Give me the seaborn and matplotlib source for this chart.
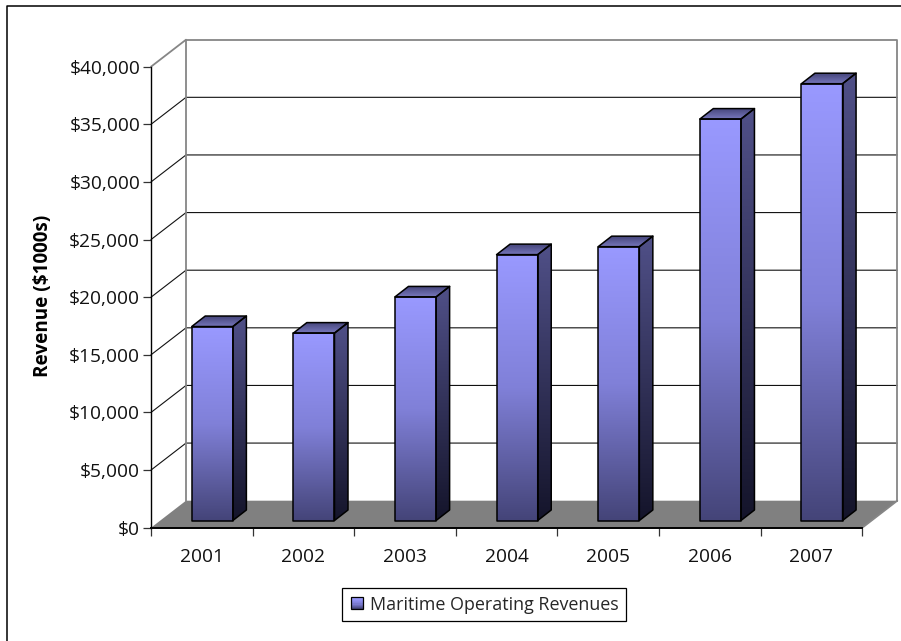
import numpy as np
import matplotlib
matplotlib.use("Agg")
import matplotlib.pyplot as plt
import seaborn as sns
from matplotlib.colors import LinearSegmentedColormap
from matplotlib.legend_handler import HandlerBase
from matplotlib.lines import Line2D
from matplotlib.patches import Polygon, Rectangle
from matplotlib.ticker import FuncFormatter
from matplotlib.transforms import Affine2D, IdentityTransform

years = ["2001", "2002", "2003", "2004", "2005", "2006", "2007"]
revenues = [16830, 16260, 19400, 23070, 23760, 34830, 37900]
series_name = "Maritime Operating Revenues"
y_ticks = [0, 5000, 10000, 15000, 20000, 25000, 30000, 35000, 40000]

W, H = 901, 641
LEFT, RIGHT, BOTTOM, TOP = 151.0, 862.3, 527.7, 66.7   # front plane, pixels from top-left
WALL_DX, WALL_DY = 35.0, 27.0                          # depth of the back wall
BAR_DX, BAR_DY = 10.5, 7.2                             # where bars stand on the floor
SIDE_DX, SIDE_DY = 13.5, 10.5                          # depth of each column

sns.set_theme(style="white")
plt.rcParams["font.family"] = ["Open Sans", "DejaVu Sans"]

fig = plt.figure(figsize=(W / 100, H / 100), dpi=100, facecolor="white")
ax = fig.add_axes([LEFT / W, 1 - BOTTOM / H, (RIGHT - LEFT) / W, (BOTTOM - TOP) / H])
ax.patch.set_visible(False)


def shifted(dx, dy):
    """Data transform moved into the depth of the chart by a pixel offset."""
    return ax.transData + Affine2D().translate(dx, dy)


sns.barplot(x=years, y=revenues, color="#9999FF", saturation=1, width=0.405,
            edgecolor="black", linewidth=0, ax=ax, zorder=5)
ax.set_xlim(-0.5, 6.5)
ax.set_ylim(0, 40000)

# Back wall frame, floor and side wall
GRAY = "#868686"
x0, x1 = ax.get_xlim()
wall = shifted(WALL_DX, WALL_DY)
to_px = ax.transData.transform
(p0x, p0y), (p1x, p1y) = to_px((x0, 0)), to_px((x1, 0))
ax.add_patch(Polygon([(p0x, p0y), (p1x, p1y), (p1x + WALL_DX, p1y + WALL_DY),
                      (p0x + WALL_DX, p0y + WALL_DY)], closed=True, facecolor="#808080",
                     edgecolor="none", transform=IdentityTransform(), clip_on=False, zorder=1))

for v in y_ticks[1:-1]:
    px, py = to_px((x0, v))
    qx, _ = to_px((x1, v))
    line_style = dict(color="#111111", lw=0.8, transform=IdentityTransform(),
                      clip_on=False, zorder=2, snap=False)
    ax.add_line(Line2D([px, px + WALL_DX], [py, py + WALL_DY], **line_style))
    ax.add_line(Line2D([px + WALL_DX, qx + WALL_DX], [py + WALL_DY, py + WALL_DY], **line_style))

frame_style = dict(color=GRAY, lw=1.3, transform=wall, clip_on=False, zorder=2,
                   solid_capstyle="projecting")
ax.add_line(Line2D([x0, x0, x1, x1], [0, 40000, 40000, 0], **frame_style))
px, py = to_px((x0, 40000))
ax.add_line(Line2D([px, px + WALL_DX], [py, py + WALL_DY], color=GRAY, lw=1.3,
                   transform=IdentityTransform(), clip_on=False, zorder=2))
ax.add_line(Line2D([p1x, p1x + WALL_DX], [p1y, p1y + WALL_DY], color=GRAY, lw=1.3,
                   transform=IdentityTransform(), clip_on=False, zorder=2))

# Shaded faces of each column
front_cmap = LinearSegmentedColormap.from_list("front", ["#9999FF", "#8080D8", "#444478"])
side_cmap = LinearSegmentedColormap.from_list("side", ["#505088", "#14142A"])
top_cmap = LinearSegmentedColormap.from_list("top", ["#44447A", "#7878BC"])
ramp = np.linspace(0, 1, 256).reshape(-1, 1)


def shade(corners, cmap, order):
    corners = np.asarray(corners)
    poly = Polygon(corners, closed=True, facecolor="none", edgecolor="black", lw=1.1,
                   transform=IdentityTransform(), clip_on=False, zorder=7, joinstyle="round")
    ax.add_patch(poly)
    extent = (corners[:, 0].min(), corners[:, 0].max(), corners[:, 1].min(), corners[:, 1].max())
    img = ax.imshow(ramp, cmap=cmap, aspect="auto", extent=extent, origin="upper",
                    transform=IdentityTransform(), zorder=order, interpolation="bilinear")
    img.set_clip_path(poly)


for bar in list(ax.patches):
    if not isinstance(bar, Rectangle) or bar.get_height() <= 0:
        continue
    bar.set_visible(False)
    xa, xb, h = bar.get_x(), bar.get_x() + bar.get_width(), bar.get_height()
    (ax_, ay_), (bx_, by_) = to_px((xa, 0)), to_px((xb, h))
    ax_, bx_ = ax_ + BAR_DX, bx_ + BAR_DX
    ay_, by_ = ay_ + BAR_DY, by_ + BAR_DY
    shade([(bx_, ay_), (bx_ + SIDE_DX, ay_ + SIDE_DY), (bx_ + SIDE_DX, by_ + SIDE_DY), (bx_, by_)],
          side_cmap, 5)
    shade([(ax_, by_), (bx_, by_), (bx_ + SIDE_DX, by_ + SIDE_DY), (ax_ + SIDE_DX, by_ + SIDE_DY)],
          top_cmap, 5)
    shade([(ax_, ay_), (bx_, ay_), (bx_, by_), (ax_, by_)], front_cmap, 6)

ax.set_xlim(x0, x1)
ax.set_ylim(0, 40000)

# Axes, ticks and labels
for name, spine in ax.spines.items():
    spine.set_visible(name in ("left", "bottom"))
    spine.set_color("black")
    spine.set_linewidth(1.0)
    spine.set_zorder(8)
ax.spines["bottom"].set_linewidth(1.4)

ax.set_yticks(y_ticks)
ax.yaxis.set_major_formatter(FuncFormatter(lambda v, _: f"${v:,.0f}"))
ax.tick_params(axis="y", which="major", left=True, length=5.8, width=0.9, color="#333333",
               pad=2.0, labelsize=13.8, labelcolor="#111111")
ax.set_xticks(np.arange(-0.5, 7), labels=[])
ax.set_xticks(np.arange(7), labels=years, minor=True)
ax.tick_params(axis="x", which="major", bottom=True, length=6.0, width=0.9, color="#333333")
ax.tick_params(axis="x", which="minor", bottom=False, length=0, pad=14.5, labelsize=13.8,
               labelcolor="#111111")
ax.grid(False)
ax.set_xlabel("")
ax.set_ylabel("Revenue ($1000s)", fontsize=13.6, fontweight="bold", color="black")
ax.yaxis.set_label_coords(53 / W, 1 - 296 / H, transform=fig.transFigure)


class GradientSwatch(HandlerBase):
    def create_artists(self, legend, orig, xd, yd, width, height, fontsize, trans):
        side = 8.6
        left, low = -xd + (width - side) / 2, -yd + (height - side) / 2
        artists = []
        steps = 10
        for i in range(steps):
            colour = front_cmap(i / (steps - 1))
            artists.append(Rectangle((left, low + side * (1 - (i + 1) / steps)), side, side / steps,
                                     facecolor=colour, edgecolor="none", transform=trans))
        artists.append(Rectangle((left, low), side, side, facecolor="none", edgecolor="black",
                                 lw=0.9, transform=trans))
        return artists


legend = ax.legend([Rectangle((0, 0), 1, 1)], [series_name],
                   handler_map={Rectangle: GradientSwatch()},
                   loc="center", bbox_to_anchor=(484 / W, 1 - 604.7 / H),
                   bbox_transform=fig.transFigure, fancybox=False, framealpha=1,
                   edgecolor="black", fontsize=12.9, handlelength=0.75, handletextpad=0.35,
                   borderpad=0.42, borderaxespad=0)
legend.get_frame().set_linewidth(0.9)
legend.set_zorder(10)

# Outer chart frame, running off the top-left corner
fig.add_artist(Line2D([6.5 / W, 6.5 / W, 1], [0, 1 - 6 / H, 1 - 6 / H],
                      color="black", lw=1.1, transform=fig.transFigure))

fig.savefig("out.png", dpi=100, facecolor="white")
